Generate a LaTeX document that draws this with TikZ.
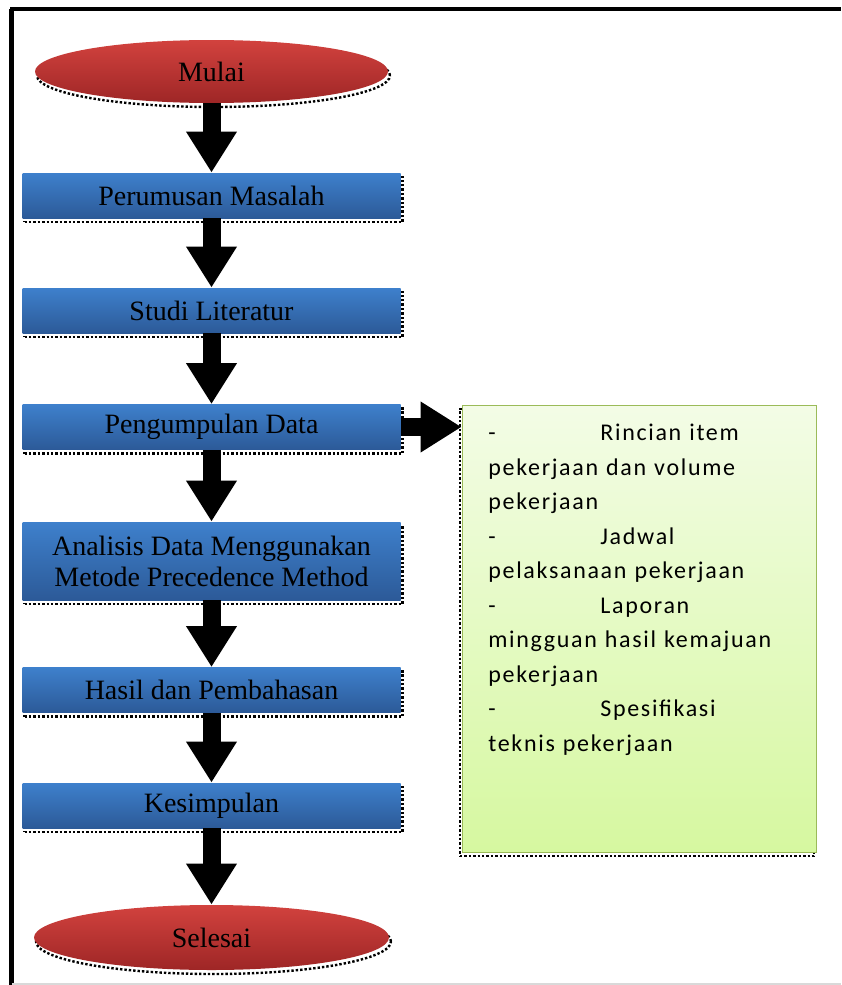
\documentclass[tikz,border=0pt]{standalone}
\usepackage{fontspec}
\setmainfont{Liberation Serif}
\newfontfamily\notefont[LetterSpace=7]{Carlito}
\usetikzlibrary{arrows.meta, shapes.geometric, shadows, positioning}

\definecolor{boxtop}{RGB}{62,128,204}
\definecolor{boxbot}{RGB}{44,90,152}
\definecolor{redtop}{RGB}{210,66,62}
\definecolor{redbot}{RGB}{158,38,38}
\definecolor{notetop}{RGB}{243,252,230}
\definecolor{notebot}{RGB}{214,248,160}
\definecolor{noteline}{RGB}{155,187,89}

\newcommand{\itemdash}{\makebox[56pt][l]{-}}

\begin{document}
\begin{tikzpicture}[
    x=0.5pt, y=-0.5pt,
    every node/.style={font=\fontsize{14}{15.5}\selectfont},
    shd/.style={general shadow={shadow xshift=1pt, shadow yshift=-2pt,
        draw=black, densely dotted, line width=1.2pt, fill=none}},
    proc/.style={rectangle, minimum width=189pt, minimum height=22.5pt,
        inner sep=0pt, top color=boxtop, bottom color=boxbot, align=center, shd},
    term/.style={ellipse, minimum width=176.5pt, minimum height=31.5pt,
        inner sep=0pt, top color=redtop, bottom color=redbot, shd},
    notebox/.style={rectangle, minimum width=177pt, minimum height=223.5pt,
        inner sep=0pt, draw=noteline, thin, top color=notetop, bottom color=notebot,
        general shadow={shadow xshift=-1pt, shadow yshift=-2pt,
        draw=black, densely dotted, line width=1.2pt, fill=none}},
    note/.style={anchor=north west, inner sep=0pt, align=left, text width=160pt,
        font=\notefont\fontsize{12}{17.25}\selectfont},
    barrow/.style={line width=9pt, -{Triangle[width=24pt, length=20.5pt]}},
]
    \useasboundingbox (0,0) rectangle (841,985);

    % bingkai
    \draw[line width=2.5pt] (11.5,985) -- (11.5,9);
    \draw[line width=2pt] (10,9) -- (841,9);
    \draw[black!15, line width=1pt] (12,984) -- (841,984);

    \node[term] (mulai)    at (211.5,71.5) {Mulai};
    \node[proc] (rumus)    at (211.5,195.5)  {Perumusan Masalah};
    \node[proc] (studi)    at (211.5,310.5)  {Studi Literatur};
    \node[proc] (kumpul)   at (211.5,427)  {Pengumpulan Data};
    \node[proc, minimum height=39pt] (analisis) at (211.5,561)
        {Analisis Data Menggunakan\\Metode Precedence Method};
    \node[proc] (hasil)    at (211.5,690)    {Hasil dan Pembahasan};
    \node[proc] (simpul)   at (211.5,805.5)  {Kesimpulan};
    \node[term, minimum width=177.5pt, minimum height=32.5pt] (selesai)
        at (211.5,937.5) {Selesai};

    % kotak rincian data
    \node[notebox] (rincian) at (639,628.5) {};
    \node[note] (isi) at (488,424) {
        \itemdash Rincian item\\
        pekerjaan dan volume\\
        pekerjaan\\
        \itemdash Jadwal\\
        pelaksanaan pekerjaan\\
        \itemdash Laporan\\
        mingguan hasil kemajuan\\
        pekerjaan\\
        \itemdash Spesifikasi\\
        teknis pekerjaan};

    % alur
    \draw[barrow] (mulai) -- (rumus);
    \draw[barrow] (rumus) -- (studi);
    \draw[barrow] (studi) -- (kumpul);
    \draw[barrow] (kumpul) -- (analisis);
    \draw[barrow] (analisis) -- (hasil);
    \draw[barrow] (hasil) -- (simpul);
    \draw[barrow] (simpul) -- (selesai);
    \draw[barrow] (kumpul) -- (rincian.west |- kumpul);

\end{tikzpicture}
\end{document}
